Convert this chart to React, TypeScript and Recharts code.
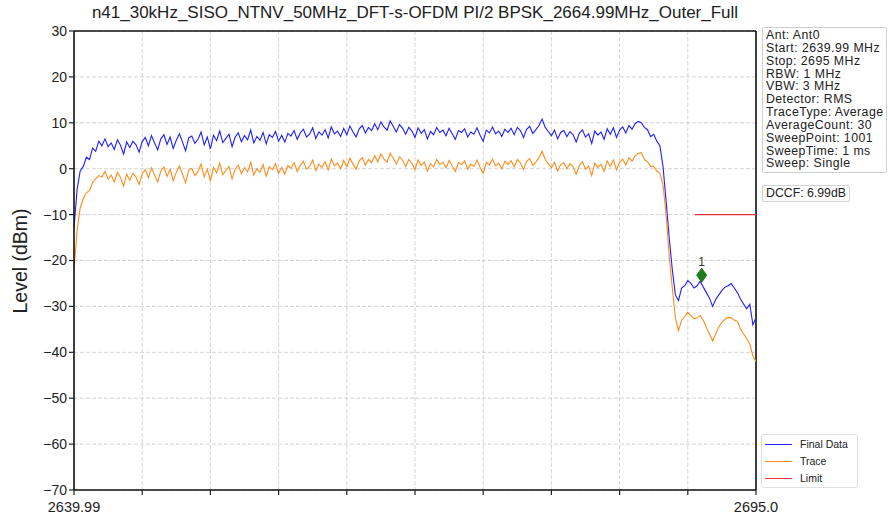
import React from "react";
import {
  ComposedChart,
  Line,
  XAxis,
  YAxis,
  CartesianGrid,
  ReferenceLine,
  ReferenceDot,
} from "recharts";

const TITLE =
  "n41_30kHz_SISO_NTNV_50MHz_DFT-s-OFDM PI/2 BPSK_2664.99MHz_Outer_Full";

const START = 2639.99;
const STOP = 2695.0;

// Final Data (dBm), one value per sweep point shown
const finalData = [
  -13.0, -4.5, -0.5, 0.5, 2.5, 2.0, 4.5, 3.8, 6.0, 5.0,
  6.5, 4.8, 5.6, 4.2, 6.3, 5.1, 3.2, 5.8, 4.6, 6.0,
  5.2, 3.6, 5.9, 6.8, 5.0, 7.2, 5.6, 4.1, 6.5, 7.4,
  5.3, 6.9, 4.4, 6.2, 7.6, 5.8, 3.9, 6.7, 7.1, 5.5,
  6.4, 8.0, 5.2, 6.9, 4.3, 7.3, 6.1, 8.2, 5.7, 6.6,
  7.5, 4.8, 6.9, 7.8, 5.9, 7.2, 6.3, 8.4, 5.6, 7.0,
  6.2, 7.9, 5.4, 7.4, 6.8, 8.1, 6.0, 7.3, 5.8, 7.7,
  7.1, 8.3, 6.4, 7.8, 8.6, 6.9, 7.5, 8.9, 6.6, 8.0,
  7.3, 8.5, 6.7, 9.1, 7.6, 8.2, 7.0, 8.8, 7.4, 9.3,
  8.0, 6.9, 8.7, 9.4, 7.8, 9.0, 8.3, 9.8, 8.5, 10.2,
  9.1, 8.4, 10.4, 9.2, 8.0, 9.6, 8.8, 7.5, 9.0, 8.2,
  6.8, 8.9, 7.7, 8.5, 6.5, 8.1, 7.4, 9.0, 7.9, 8.4,
  7.2, 8.8, 7.6, 6.4, 8.3, 7.9, 8.7, 6.9, 8.0, 7.5,
  8.9, 7.3, 6.0, 8.4, 7.8, 9.1, 7.6, 8.2, 7.0, 8.6,
  7.9, 8.8, 7.4, 9.0, 8.3, 6.8, 8.6, 9.2, 7.7, 8.5,
  9.4, 10.8, 9.0, 8.1, 7.2, 8.4, 6.5, 7.9, 8.3, 7.0,
  8.1, 7.4, 5.8, 7.7, 8.5, 6.9, 7.6, 5.5, 8.2, 7.3,
  8.0, 6.4, 8.7, 7.5, 8.9, 6.8, 8.4, 9.1, 7.8, 9.4,
  8.6, 9.8, 10.3, 10.0, 9.0, 8.5, 7.0, 7.5, 6.0, 5.0,
  0.5, -7.0, -15.0, -22.0, -27.5, -28.7, -26.0, -25.5, -24.4, -25.0,
  -26.0, -25.5, -24.5, -25.8, -27.0, -28.2, -30.0, -28.5, -27.5, -26.5,
  -25.8, -25.5, -25.0, -26.0, -27.0, -28.4, -29.5, -30.5, -29.5, -34.0,
  -32.5,
];

// Trace (dBm)
const traceData = [
  -22.0, -13.5, -8.5, -6.5, -5.2, -4.8, -3.0, -2.2, -1.5, -1.8,
  -0.6, -2.3, -1.4, -2.9, -0.8, -1.9, -3.8, -1.2, -2.5, -1.0,
  -1.8, -3.4, -1.1, -0.2, -2.0, 0.2, -1.4, -2.9, -0.5, 0.4,
  -1.7, -0.1, -2.6, -0.8, 0.6, -1.2, -3.1, -0.3, 0.1, -1.5,
  -0.6, 1.0, -1.8, -0.1, -2.7, 0.3, -0.9, 1.2, -1.3, -0.4,
  0.5, -2.2, -0.1, 0.8, -1.1, 0.2, -0.7, 1.4, -1.4, 0.0,
  -0.8, 0.9, -1.6, 0.4, -0.2, 1.1, -1.0, 0.3, -1.2, 0.7,
  0.1, 1.3, -0.6, 0.8, 1.6, -0.1, 0.5, 1.9, -0.4, 1.0,
  0.3, 1.5, -0.3, 2.1, 0.6, 1.2, 0.0, 1.8, 0.4, 2.3,
  1.0, -0.1, 1.7, 2.4, 0.8, 2.0, 1.3, 2.8, 1.5, 3.2,
  2.1, 1.4, 3.4, 2.2, 1.0, 2.6, 1.8, 0.5, 2.0, 1.2,
  -0.2, 1.9, 0.7, 1.5, -0.5, 1.1, 0.4, 2.0, 0.9, 1.4,
  0.2, 1.8, 0.6, -0.6, 1.3, 0.9, 1.7, -0.1, 1.0, 0.5,
  1.9, 0.3, -1.0, 1.4, 0.8, 2.1, 0.6, 1.2, 0.0, 1.6,
  0.9, 1.8, 0.4, 2.0, 1.3, -0.2, 1.6, 2.2, 0.7, 1.5,
  2.4, 3.8, 2.0, 1.1, 0.2, 1.4, -0.5, 0.9, 1.3, 0.0,
  1.1, 0.4, -1.2, 0.7, 1.5, -0.1, 0.6, -1.5, 1.2, 0.3,
  1.0, -0.6, 1.7, 0.5, 1.9, -0.2, 1.4, 2.1, 0.8, 2.4,
  1.6, 2.8, 3.3, 3.5, 2.0, 1.5, 0.5, 0.5, -0.5, -1.0,
  -3.5, -10.0, -19.0, -26.0, -32.5, -35.3, -33.0, -32.2, -31.3, -32.0,
  -32.7, -32.5, -32.0, -33.0, -34.6, -36.0, -37.5, -36.0, -34.5, -33.5,
  -32.8, -32.4, -32.5, -33.0, -33.2, -35.0, -36.0, -37.0, -38.2, -40.8,
  -42.0,
];

const limitFreqs = [2690.07, 2695.0];
const limitLevels = [-10, -10];

const markerFreq = 2690.62;
const markerLevel = -23.2;
const markerLabel = "1";

const xTicks = [
  2639.99, 2645.491, 2650.992, 2656.493, 2661.994, 2667.495, 2672.996,
  2678.497, 2683.998, 2689.499, 2695.0,
];
const xTickLabels = ["2639.99", "", "", "", "", "", "", "", "", "", "2695.0"];
const yTicks = [-70, -60, -50, -40, -30, -20, -10, 0, 10, 20, 30];

const infoLines = [
  "Ant: Ant0",
  "Start: 2639.99 MHz",
  "Stop: 2695 MHz",
  "RBW: 1 MHz",
  "VBW: 3 MHz",
  "Detector: RMS",
  "TraceType: Average",
  "AverageCount: 30",
  "SweepPoint: 1001",
  "SweepTime: 1 ms",
  "Sweep: Single",
];
const dccfText = "DCCF: 6.99dB";

const legendItems = [
  { name: "Final Data", color: "#1f1fff" },
  { name: "Trace", color: "#ff8c1a" },
  { name: "Limit", color: "#f0303c" },
];

const FONT = "'Liberation Sans', Arial, sans-serif";

const step = (STOP - START) / (finalData.length - 1);
const chartData = finalData.map((v, i) => ({
  f: START + i * step,
  final: v,
  trace: traceData[i],
}));
const limitData = limitFreqs.map((f, i) => ({ f, limit: limitLevels[i] }));

const fmtY = (v: number) => (v < 0 ? "\u2212" + Math.abs(v) : String(v));

const XTick = (props: any) => {
  const { x, y, index } = props;
  const label = xTickLabels[index] ?? "";
  return (
    <g>
      <line x1={x} y1={y - 8} x2={x} y2={y - 3} stroke="#222" strokeWidth={1.2} />
      {label && (
        <text x={x} y={y + 14} textAnchor="middle" fontSize={14.5} fill="#222" fontFamily={FONT}>
          {label}
        </text>
      )}
    </g>
  );
};

const MarkerShape = (props: any) => {
  const { cx, cy } = props;
  return (
    <g>
      <polygon
        points={`${cx},${cy - 7} ${cx + 5},${cy} ${cx},${cy + 7} ${cx - 5},${cy}`}
        fill="#1e7d1e"
        stroke="#1e7d1e"
      />
      <text x={cx} y={cy - 9} textAnchor="middle" fontSize={12} fill="#333" fontFamily={FONT}>
        {markerLabel}
      </text>
    </g>
  );
};

export default function App() {
  return (
    <div
      style={{
        position: "absolute",
        left: 0,
        top: 0,
        width: 891,
        height: 517,
        background: "#fff",
        fontFamily: FONT,
      }}
    >
      <div
        style={{
          position: "absolute",
          left: 34,
          width: 762,
          top: 3,
          textAlign: "center",
          fontSize: 17,
          color: "#222",
          whiteSpace: "nowrap",
        }}
      >
        {TITLE}
      </div>
      <ComposedChart
        width={891}
        height={517}
        data={chartData}
        margin={{ top: 31, right: 135, bottom: 0, left: 0 }}
      >
        <CartesianGrid stroke="#d4d4d4" strokeDasharray="4 2" />
        <XAxis
          type="number"
          dataKey="f"
          domain={[START, STOP]}
          ticks={xTicks}
          interval={0}
          height={27}
          allowDataOverflow
          axisLine={{ stroke: "#111", strokeWidth: 1.6 }}
          tickLine={false}
          tick={<XTick />}
        />
        <YAxis
          type="number"
          domain={[-70, 30]}
          ticks={yTicks}
          interval={0}
          width={74}
          allowDataOverflow
          axisLine={{ stroke: "#111", strokeWidth: 1.6 }}
          tickLine={{ stroke: "#222", strokeWidth: 1.2 }}
          tickSize={5}
          tickFormatter={fmtY}
          tick={{ fontSize: 14, fill: "#222", fontFamily: FONT }}
        />
        <ReferenceLine y={30} stroke="#111" strokeWidth={1.6} />
        <ReferenceLine x={STOP} stroke="#111" strokeWidth={1.6} />
        <Line
          type="linear"
          dataKey="final"
          stroke="#1f1fff"
          strokeWidth={1.1}
          dot={false}
          isAnimationActive={false}
        />
        <Line
          type="linear"
          dataKey="trace"
          stroke="#ff8c1a"
          strokeWidth={1.1}
          dot={false}
          isAnimationActive={false}
        />
        <Line
          type="linear"
          data={limitData}
          dataKey="limit"
          stroke="#f0303c"
          strokeWidth={1.2}
          dot={false}
          isAnimationActive={false}
        />
        <ReferenceDot
          x={markerFreq}
          y={markerLevel}
          r={6}
          shape={<MarkerShape />}
        />
      </ComposedChart>
      <div
        style={{
          position: "absolute",
          left: 20,
          top: 261,
          transform: "translate(-50%, -50%) rotate(-90deg)",
          fontSize: 19.5,
          color: "#222",
          whiteSpace: "nowrap",
        }}
      >
        Level (dBm)
      </div>
      <div
        style={{
          position: "absolute",
          left: 762,
          top: 27,
          width: 125,
          height: 146,
          border: "1px solid #d0d0d0",
          borderRadius: 2,
          padding: "1px 0 0 3px",
          boxSizing: "border-box",
          fontSize: 12.3,
          lineHeight: "12.85px",
          letterSpacing: 0.45,
          color: "#222",
        }}
      >
        {infoLines.map((l) => (
          <div key={l} style={{ whiteSpace: "nowrap" }}>
            {l}
          </div>
        ))}
      </div>
      <div
        style={{
          position: "absolute",
          left: 762,
          top: 185,
          width: 88,
          height: 17,
          border: "1px solid #d0d0d0",
          borderRadius: 2,
          boxSizing: "border-box",
          paddingLeft: 3,
          fontSize: 12.3,
          lineHeight: "15px",
          color: "#222",
          whiteSpace: "nowrap",
        }}
      >
        {dccfText}
      </div>
      <div
        style={{
          position: "absolute",
          left: 761,
          top: 434,
          width: 97,
          height: 54,
          border: "1px solid #e0e0e0",
          borderRadius: 3,
          boxSizing: "border-box",
        }}
      >
        {legendItems.map((it, i) => (
          <div
            key={it.name}
            style={{
              position: "absolute",
              left: 3,
              top: 2 + i * 17,
              height: 14,
              display: "flex",
              alignItems: "center",
              fontSize: 10.5,
              color: "#222",
              whiteSpace: "nowrap",
            }}
          >
            <span
              style={{
                display: "inline-block",
                width: 27,
                height: 0,
                borderTop: `1.5px solid ${it.color}`,
                marginRight: 8,
              }}
            />
            {it.name}
          </div>
        ))}
      </div>
    </div>
  );
}
